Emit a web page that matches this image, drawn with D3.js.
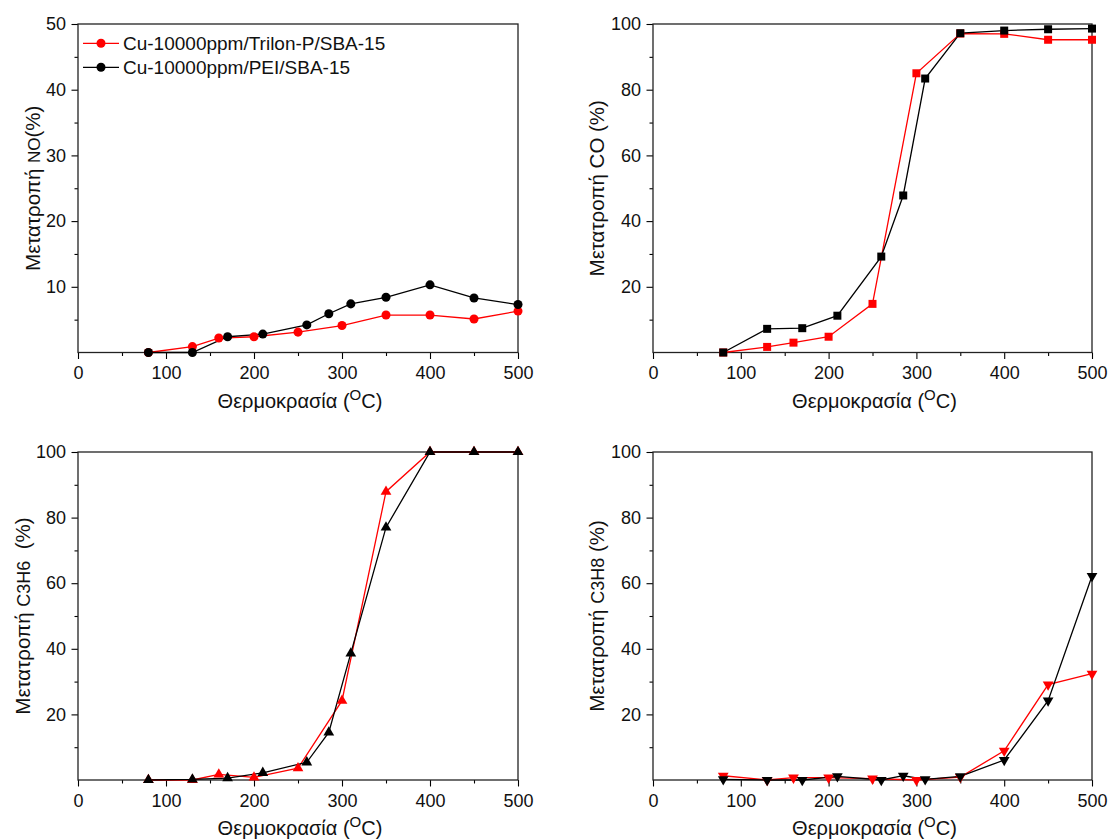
<!DOCTYPE html>
<html>
<head>
<meta charset="utf-8">
<script src="https://cdn.jsdelivr.net/npm/d3@7"></script>
<style>
  html, body { margin: 0; padding: 0; background: #fff; }
  svg { display: block; font-family: "Liberation Sans", Arial, sans-serif; }
</style>
</head>
<body>
<svg id="chart" width="1109" height="840"></svg>
<script>
// Temperatures (°C) for each catalyst
const tempTrilon = [80, 130, 160, 200, 250, 300, 350, 400, 450, 500];
const tempPEI    = [80, 130, 170, 210, 260, 285, 310, 350, 400, 450, 500];

// NO conversion (%)
const noTrilon = [0, 0.9, 2.2, 2.4, 3.1, 4.1, 5.7, 5.7, 5.1, 6.3];
const noPEI    = [0, 0, 2.4, 2.8, 4.2, 5.9, 7.4, 8.4, 10.3, 8.3, 7.3];

// CO conversion (%)
const coTrilon = [0, 1.7, 3.0, 4.8, 14.8, 85.0, 97.1, 97.0, 95.2, 95.2];
const coPEI    = [0, 7.2, 7.4, 11.2, 29.2, 47.8, 83.4, 97.2, 98.0, 98.4, 98.6];

// C3H6 conversion (%)
const c3h6Trilon = [0, 0, 1.7, 0.8, 3.6, 24.2, 87.9, 100, 100, 100];
const c3h6PEI    = [0, 0.2, 0.6, 2.2, 5.4, 14.5, 38.6, 77.0, 100, 100, 100];

// C3H8 conversion (%)
const c3h8Trilon = [1.3, 0, 0.7, 0.7, 0.4, 0, 0.9, 8.9, 29.1, 32.4];
const c3h8PEI    = [0.2, 0, 0, 1.1, 0, 1.3, 0.2, 1.1, 6.1, 24.2, 62.2];

const xTicks = [0, 100, 200, 300, 400, 500];
const legendLabels = ["Cu-10000ppm/Trilon-P/SBA-15", "Cu-10000ppm/PEI/SBA-15"];
const xTitleMain = "Θερμοκρασία (";
const yTitlePrefix = "Μετατροπή ";

const svg = d3.select("#chart");
const RED = "#ff0000", BLACK = "#000000";
const TICK_FONT = 18, TITLE_FONT = 20.5;

const panels = [
  { box: {l: 78, r: 518, t: 24, b: 352.5}, yMax: 50, yTicks: [10, 20, 30, 40, 50], yMinor: 5,
    red: noTrilon, black: noPEI, marker: d3.symbolCircle, msize: 64,
    ytitle: [{t: yTitlePrefix, s: TITLE_FONT}, {t: "NO", s: 17}, {t: "(%)", s: TITLE_FONT}], ytx: 40, legend: true },
  { box: {l: 653, r: 1092, t: 24, b: 352.5}, yMax: 100, yTicks: [20, 40, 60, 80, 100], yMinor: 10,
    red: coTrilon, black: coPEI, marker: d3.symbolSquare, msize: 64,
    ytitle: [{t: yTitlePrefix + "CO (%)", s: TITLE_FONT}], ytx: 604 },
  { box: {l: 78, r: 518, t: 452, b: 780}, yMax: 100, yTicks: [20, 40, 60, 80, 100], yMinor: 10,
    red: c3h6Trilon, black: c3h6PEI, marker: d3.symbolTriangle, msize: 50,
    ytitle: [{t: yTitlePrefix, s: TITLE_FONT}, {t: "C3H6", s: 18}, {t: "\u00a0\u00a0(%)", s: TITLE_FONT}], ytx: 30 },
  { box: {l: 653, r: 1092, t: 452, b: 780}, yMax: 100, yTicks: [20, 40, 60, 80, 100], yMinor: 10,
    red: c3h8Trilon, black: c3h8PEI, marker: d3.symbolTriangle, msize: 50, flip: true,
    ytitle: [{t: yTitlePrefix, s: TITLE_FONT}, {t: "C3H8", s: 18}, {t: " (%)", s: TITLE_FONT}], ytx: 604 }
];

panels.forEach(p => {
  const {l, r, t, b} = p.box;
  const x = d3.scaleLinear().domain([0, 500]).range([l, r]);
  const y = d3.scaleLinear().domain([0, p.yMax]).range([b, t]);
  const g = svg.append("g");

  // minor ticks
  const xMinor = d3.range(50, 500, 100);
  g.append("g").attr("transform", `translate(0,${b})`)
    .call(d3.axisBottom(x).tickValues(xMinor).tickSize(3.5).tickFormat(""))
    .call(s => s.select(".domain").remove())
    .call(s => s.selectAll("line").attr("stroke-width", 1.1));
  const yMinorVals = d3.range(p.yMinor, p.yMax, p.yMinor * 2);
  g.append("g").attr("transform", `translate(${l},0)`)
    .call(d3.axisLeft(y).tickValues(yMinorVals).tickSize(3.5).tickFormat(""))
    .call(s => s.select(".domain").remove())
    .call(s => s.selectAll("line").attr("stroke-width", 1.1));

  // major ticks with labels
  g.append("g").attr("transform", `translate(0,${b})`)
    .call(d3.axisBottom(x).tickValues(xTicks).tickSize(6.5).tickPadding(7.5).tickFormat(d3.format("d")))
    .call(s => s.select(".domain").remove())
    .call(s => s.selectAll("line").attr("stroke-width", 1.1))
    .call(s => s.selectAll("text").attr("font-size", TICK_FONT).attr("fill", "#111")
      .attr("font-family", "Liberation Sans, Arial, sans-serif"));
  g.append("g").attr("transform", `translate(${l},0)`)
    .call(d3.axisLeft(y).tickValues(p.yTicks).tickSize(6.5).tickPadding(5.5).tickFormat(d3.format("d")))
    .call(s => s.select(".domain").remove())
    .call(s => s.selectAll("line").attr("stroke-width", 1.1))
    .call(s => s.selectAll("text").attr("font-size", TICK_FONT).attr("fill", "#111")
      .attr("font-family", "Liberation Sans, Arial, sans-serif"));

  // frame
  g.append("rect").attr("x", l).attr("y", t).attr("width", r - l).attr("height", b - t)
    .attr("fill", "none").attr("stroke", "#222").attr("stroke-width", 1.3);

  // series
  const series = [
    { xs: tempTrilon, ys: p.red, color: RED },
    { xs: tempPEI, ys: p.black, color: BLACK }
  ];
  const line = d3.line().x(d => x(d[0])).y(d => y(d[1]));
  const sym = d3.symbol().type(p.marker).size(p.msize);
  series.forEach(sr => {
    const pts = sr.xs.map((v, i) => [v, sr.ys[i]]);
    g.append("path").datum(pts).attr("d", line)
      .attr("fill", "none").attr("stroke", sr.color).attr("stroke-width", 1.3);
  });
  series.forEach(sr => {
    const pts = sr.xs.map((v, i) => [v, sr.ys[i]]);
    g.selectAll(null).data(pts).enter().append("path")
      .attr("d", sym)
      .attr("transform", d => `translate(${x(d[0])},${y(d[1])})` + (p.flip ? " rotate(180)" : ""))
      .attr("fill", sr.color);
  });

  // x title
  const xt = g.append("text").attr("x", (l + r) / 2 + 2).attr("y", b + 55)
    .attr("text-anchor", "middle").attr("font-size", 20).attr("fill", "#111");
  xt.append("tspan").text(xTitleMain);
  xt.append("tspan").attr("font-size", 15).attr("dy", -8).text("O");
  xt.append("tspan").attr("dy", 8).text("C)");

  // y title
  const yt = g.append("text")
    .attr("transform", `translate(${p.ytx},${(t + b) / 2}) rotate(-90)`)
    .attr("text-anchor", "middle").attr("fill", "#111");
  p.ytitle.forEach(part => yt.append("tspan").attr("font-size", part.s).text(part.t));

  // legend
  if (p.legend) {
    const lg = g.append("g");
    [RED, BLACK].forEach((c, i) => {
      const yy = 43.3 + i * 24;
      lg.append("line").attr("x1", 83).attr("x2", 119).attr("y1", yy).attr("y2", yy)
        .attr("stroke", c).attr("stroke-width", 1.3);
      lg.append("path").attr("d", sym).attr("transform", `translate(101,${yy})`).attr("fill", c);
      lg.append("text").attr("x", 123).attr("y", yy + 6.7).attr("font-size", 19)
        .attr("fill", "#111").text(legendLabels[i]);
    });
  }
});
</script>
</body>
</html>
